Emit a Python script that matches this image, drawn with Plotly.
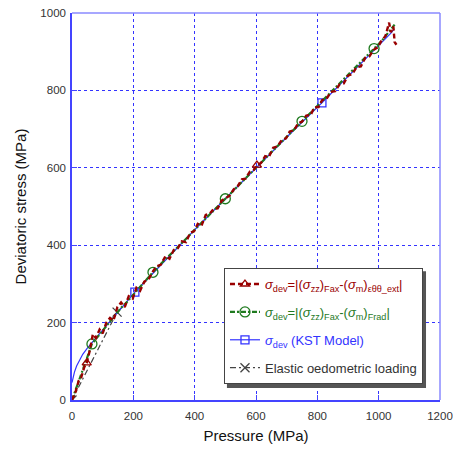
import plotly.graph_objects as go

# --- measured series -------------------------------------------------------
# sigma_dev = |(sigma_zz)_Fax - (sigma_m)_eps_theta_theta_ext|
red_p = [0, 12, 22, 30, 40, 48, 58, 68, 78, 90, 100, 112, 124, 135, 148, 160, 172, 185,
         198, 210, 222, 236, 250, 262, 275, 290, 305, 318, 332, 345, 358, 372, 385, 398,
         410, 422, 436, 450, 462, 475, 488, 500, 514, 528, 540, 554, 566, 580, 592, 603,
         616, 630, 642, 656, 670, 684, 698, 710, 724, 738, 750, 764, 778, 790, 804, 816,
         830, 844, 858, 872, 886, 900, 914, 928, 942, 956, 970, 984, 998, 1010, 1022,
         1034, 1040, 1048, 1052, 1058]
red_q = [0, 22, 50, 58, 85, 96, 128, 170, 160, 182, 172, 200, 212, 205, 240, 252, 240,
         268, 262, 290, 282, 306, 312, 330, 345, 350, 372, 365, 388, 392, 410, 408, 432,
         436, 455, 450, 478, 482, 494, 495, 515, 520, 528, 545, 552, 570, 572, 590, 594,
         607, 612, 630, 628, 652, 655, 672, 676, 694, 697, 716, 719, 735, 736, 756, 757,
         775, 778, 796, 798, 815, 818, 838, 842, 860, 862, 884, 888, 905, 912, 930, 940,
         975, 950, 965, 925, 918]
red_mark_p = [48, 603]
red_mark_q = [96, 607]

# sigma_dev = |(sigma_zz)_Fax - (sigma_m)_Frad|
green_p = [0, 15, 30, 45, 55, 65, 80, 100, 120, 140, 160, 180, 200, 220, 240, 264, 290,
           320, 350, 380, 410, 440, 470, 500, 530, 560, 590, 620, 650, 680, 710, 750,
           780, 810, 840, 870, 900, 930, 960, 985, 1010, 1030, 1045, 1052]
green_q = [0, 32, 66, 98, 122, 145, 160, 178, 200, 218, 238, 254, 272, 292, 310, 330,
           352, 375, 399, 423, 448, 472, 496, 520, 543, 567, 592, 616, 640, 663, 688,
           720, 743, 767, 792, 816, 840, 862, 886, 908, 928, 948, 962, 970]
green_mark_p = [65, 264, 500, 750, 985]
green_mark_q = [145, 330, 520, 720, 908]

# KST model
kst_p = [0, 3, 8, 15, 25, 35, 50, 65, 85, 110, 140, 170, 205, 250, 300, 400, 500, 600,
         700, 815, 900, 1000, 1040, 1050]
kst_q = [45, 58, 72, 88, 105, 118, 134, 148, 167, 192, 220, 248, 279, 316, 358, 440,
         520, 600, 679, 768, 836, 914, 948, 958]
kst_mark_p = [205, 815]
kst_mark_q = [279, 768]

# elastic oedometric loading
elastic_p = [0, 147]
elastic_q = [0, 227]

x_ticks = [0, 200, 400, 600, 800, 1000, 1200]
y_ticks = [0, 200, 400, 600, 800, 1000]

RED, GREEN, BLUE, GREY = "#990000", "#1f7a1f", "#3333ff", "#444444"
FONT = "Liberation Sans, Arial, sans-serif"
S = "<i>σ</i>"

styles = {
    "elastic": dict(color=GREY, dash="6px,3px,2px,3px", width=1.2, symbol="x-thin-open", size=9,
                    name="<span style='color:#333'>Elastic oedometric loading</span>"),
    "kst": dict(color=BLUE, dash="solid", width=1.2, symbol="square-open", size=8,
                name=f"<span style='color:{BLUE}'>{S}<sub>dev</sub> (KST Model)</span>"),
    "frad": dict(color=GREEN, dash="5px,2px,2px,2px", width=2.2, symbol="circle-open", size=10,
                 name=f"<span style='color:{GREEN}'>{S}<sub>dev</sub>=|({S}<sub>zz</sub>)"
                      f"<sub>Fax</sub>-({S}<sub>m</sub>)<sub>Frad</sub>|</span>"),
    "ext": dict(color=RED, dash="5px,3px", width=2.4, symbol="triangle-up-open", size=8,
                name=f"<span style='color:{RED}'>{S}<sub>dev</sub>=|({S}<sub>zz</sub>)"
                     f"<sub>Fax</sub>-({S}<sub>m</sub>)<sub>εθθ_ext</sub>|</span>"),
}
curves = {
    "elastic": (elastic_p, elastic_q, elastic_p, elastic_q),
    "kst": (kst_p, kst_q, kst_mark_p, kst_mark_q),
    "frad": (green_p, green_q, green_mark_p, green_mark_q),
    "ext": (red_p, red_q, red_mark_p, red_mark_q),
}


def marker(st):
    return dict(symbol=st["symbol"], size=st["size"], color=st["color"],
                line=dict(color=st["color"], width=1.3))


fig = go.Figure()

# curves and their sparse markers
for key in ["elastic", "kst", "frad", "ext"]:
    st = styles[key]
    px, py, mx, my = curves[key]
    fig.add_trace(go.Scatter(x=px, y=py, mode="lines", showlegend=False,
                             line=dict(color=st["color"], dash=st["dash"], width=st["width"])))
    fig.add_trace(go.Scatter(x=mx, y=my, mode="markers", showlegend=False, marker=marker(st)))

# legend entries (one point each, kept outside the axis ranges)
for key in ["ext", "frad", "kst", "elastic"]:
    st = styles[key]
    fig.add_trace(go.Scatter(x=[-500], y=[-500], mode="lines+markers", name=st["name"],
                             legendgroup=key,
                             line=dict(color=st["color"], dash=st["dash"], width=st["width"]),
                             marker=marker(st)))

axis_common = dict(showline=True, linecolor="#4444ff", linewidth=1.5, mirror=False,
                   showgrid=True, gridcolor="#3333ff", griddash="dot", gridwidth=1,
                   ticks="inside", ticklen=5, tickcolor="#4444ff", zeroline=False,
                   automargin=False,
                   tickfont=dict(family=FONT, size=11.5, color="#333"))

fig.update_xaxes(range=[0, 1200], tickvals=x_ticks, ticklabelstandoff=4,
                 title=dict(text="Pressure (MPa)", font=dict(family=FONT, size=15, color="#111"),
                            standoff=10),
                 **axis_common)
fig.update_yaxes(range=[0, 1000], tickvals=y_ticks, ticklabelstandoff=2,
                 title=dict(text="Deviatoric stress (MPa)",
                            font=dict(family=FONT, size=15, color="#111"), standoff=10),
                 **axis_common)

# lighter frame on the top and right edges, plus the legend's drop shadow
frame = dict(type="line", xref="paper", yref="paper", line=dict(color="#8a8aff", width=1.5))
fig.add_shape(x0=0, x1=1, y0=1, y1=1, **frame)
fig.add_shape(x0=1, x1=1, y0=0, y1=1, **frame)
fig.add_shape(type="rect", xref="paper", yref="paper", x0=0.421, x1=0.962, y0=0.031, y1=0.333,
              fillcolor="#555", line=dict(width=0), layer="above")

fig.update_layout(
    width=453, height=453,
    margin=dict(l=72, r=13, t=13, b=53),
    paper_bgcolor="white", plot_bgcolor="white",
    font=dict(family=FONT, size=13),
    legend=dict(x=0.413, y=0.341, xanchor="left", yanchor="top",
                traceorder="grouped",
                bgcolor="white", bordercolor="#444", borderwidth=1,
                font=dict(family=FONT, size=13), itemwidth=30, tracegroupgap=8),
)

fig.write_html("out.html")
